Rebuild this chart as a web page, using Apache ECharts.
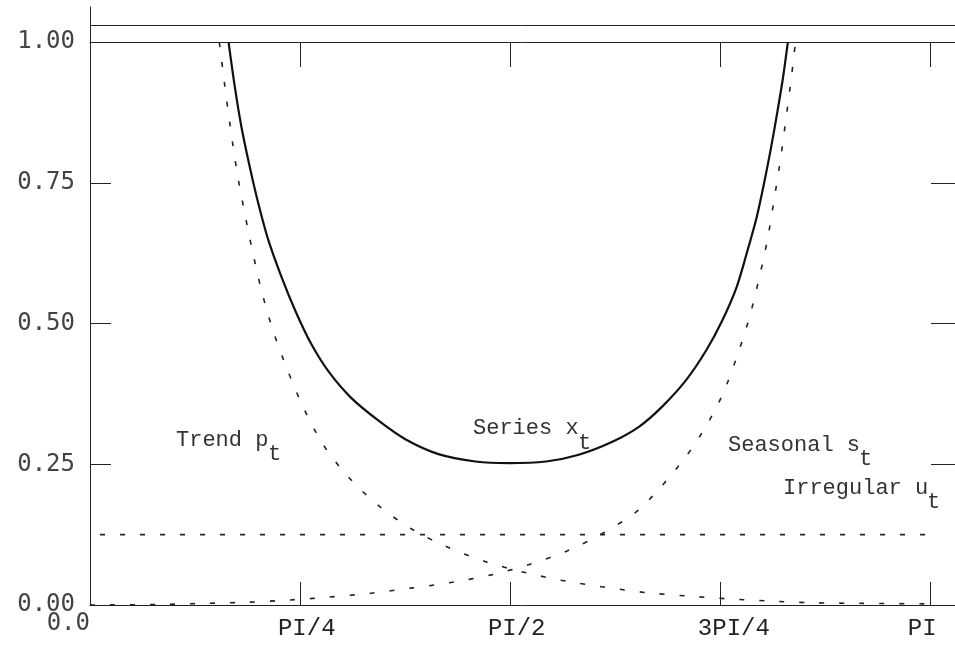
<!DOCTYPE html>
<html><head><meta charset="utf-8">
<script src="https://cdn.jsdelivr.net/npm/echarts@6/dist/echarts.min.js"></script>
<style>html,body{margin:0;padding:0;background:#fff}#c{width:955px;height:645px}</style>
</head><body><div id="c"></div><script>
// frequency expressed as a fraction of PI
const xTickValues = [0.25, 0.5, 0.75, 1.0];
const xTickLabels = ['PI/4', 'PI/2', '3PI/4', 'PI'];
const yTickValues = [0, 0.25, 0.5, 0.75, 1.0];

const trendFreq = [0.154,0.160,0.167,0.175,0.184,0.193,0.204,0.217,0.235,0.255,0.278,0.308,0.344,0.383,0.427,0.473,0.520,0.568,0.616,0.662,0.711,0.759,0.809,0.860,0.916,1.000];
const trendVal  = [1.000,0.928,0.850,0.770,0.698,0.632,0.560,0.492,0.418,0.348,0.284,0.227,0.176,0.135,0.102,0.076,0.057,0.042,0.031,0.022,0.016,0.011,0.007,0.004,0.003,0.002];

const seasonalFreq = [0.000,0.085,0.137,0.189,0.239,0.284,0.335,0.382,0.430,0.479,0.523,0.568,0.610,0.654,0.702,0.730,0.753,0.770,0.785,0.797,0.807,0.815,0.823,0.830,0.835,0.840];
const seasonalVal  = [0.000,0.001,0.003,0.005,0.009,0.014,0.021,0.030,0.040,0.054,0.072,0.096,0.127,0.170,0.249,0.309,0.373,0.440,0.510,0.582,0.652,0.724,0.800,0.878,0.935,1.000];

const seriesFreq = [0.165,0.172,0.180,0.190,0.200,0.212,0.228,0.245,0.263,0.284,0.311,0.344,0.376,0.415,0.459,0.499,0.543,0.582,0.622,0.654,0.681,0.710,0.734,0.753,0.770,0.782,0.794,0.803,0.811,0.818,0.825,0.831];
const seriesVal  = [1.000,0.925,0.852,0.780,0.716,0.650,0.583,0.521,0.465,0.415,0.368,0.327,0.294,0.268,0.255,0.252,0.255,0.267,0.290,0.317,0.352,0.400,0.453,0.506,0.565,0.625,0.690,0.752,0.813,0.872,0.935,1.000];

const irregularFreq = [0.012, 0.997];
const irregularVal  = [0.125, 0.125];

const frameTop = 1.03;

const zip = (a, b) => a.map((v, i) => [v, b[i]]);
const ink = '#222';
const labelShift = 0.0262;
const xLabelPos = xTickValues.map(v => v - labelShift);

const chart = echarts.init(document.getElementById('c'), null, {renderer: 'canvas'});
const monoFont = '"Liberation Mono", "Courier New", monospace';
const sansFont = '"DejaVu Sans Mono", monospace';

chart.setOption({
  backgroundColor: '#fff',
  animation: false,
  grid: {left: 90, right: 0, top: 7, bottom: 40, containLabel: false},
  xAxis: [{
    type: 'value', min: 0, max: 1.03, position: 'bottom',
    axisLine: {show: true, onZero: false, lineStyle: {color: ink, width: 1}},
    axisTick: {show: true, inside: true, length: 23, customValues: xTickValues, lineStyle: {color: ink, width: 1}},
    axisLabel: {
      show: true, customValues: xLabelPos, align: 'left', margin: 12,
      fontFamily: monoFont, fontSize: 24, color: ink,
      formatter: v => { const i = xLabelPos.findIndex(p => Math.abs(p - v) < 1e-6); return i >= 0 ? xTickLabels[i] : ''; }
    },
    splitLine: {show: false}
  }, {
    type: 'value', min: 0, max: 1.03, position: 'top', offset: -35,
    axisLine: {show: true, onZero: false, lineStyle: {color: ink, width: 1}},
    axisTick: {show: true, inside: true, length: 25, customValues: xTickValues, lineStyle: {color: ink, width: 1}},
    axisLabel: {show: false},
    splitLine: {show: false}
  }],
  yAxis: [{
    type: 'value', min: 0, max: 1.0625, position: 'left',
    axisLine: {show: true, onZero: false, lineStyle: {color: ink, width: 1}},
    axisTick: {show: true, inside: true, length: 21, customValues: [0.25, 0.5, 0.75], lineStyle: {color: ink, width: 1}},
    axisLabel: {show: true, customValues: yTickValues, margin: 15, fontFamily: sansFont, fontSize: 24, color: '#444',
      formatter: v => v.toFixed(2)},
    splitLine: {show: false}
  }, {
    type: 'value', min: 0, max: 1.0625, position: 'right',
    axisLine: {show: true, onZero: false, lineStyle: {color: ink, width: 1}},
    axisTick: {show: true, inside: true, length: 24, customValues: [0.25, 0.5, 0.75], lineStyle: {color: ink, width: 1}},
    axisLabel: {show: false},
    splitLine: {show: false}
  }],
  series: [{
    name: 'Series x_t', type: 'line', data: zip(seriesFreq, seriesVal), showSymbol: false, smooth: 0.3,
    lineStyle: {color: '#111', width: 2.2},
    markLine: {silent: true, symbol: 'none', label: {show: false},
      lineStyle: {type: 'solid', color: ink, width: 1}, data: [{yAxis: frameTop}]}
  }, {
    name: 'Trend p_t', type: 'line', data: zip(trendFreq, trendVal), showSymbol: false, smooth: 0.3,
    lineStyle: {color: '#222', width: 1.6, type: [5, 15]}
  }, {
    name: 'Seasonal s_t', type: 'line', data: zip(seasonalFreq, seasonalVal), showSymbol: false, smooth: 0.3,
    lineStyle: {color: '#222', width: 1.6, type: [5, 15]}
  }, {
    name: 'Irregular u_t', type: 'line', data: zip(irregularFreq, irregularVal), showSymbol: false,
    lineStyle: {color: '#222', width: 1.6, type: [5, 15]}
  }],
  graphic: [
    {type: 'text', style: {text: '0.0', x: 90, y: 624, textAlign: 'right', textVerticalAlign: 'middle', font: '24px ' + sansFont, fill: '#444'}},
    {type: 'text', style: {text: 'Trend p', x: 176, y: 440, textVerticalAlign: 'middle', font: '22px ' + monoFont, fill: '#333'}},
    {type: 'text', style: {text: 't', x: 268, y: 454, textVerticalAlign: 'middle', font: '22px ' + monoFont, fill: '#333'}},
    {type: 'text', style: {text: 'Series x', x: 473, y: 428, textVerticalAlign: 'middle', font: '22px ' + monoFont, fill: '#333'}},
    {type: 'text', style: {text: 't', x: 578, y: 443, textVerticalAlign: 'middle', font: '22px ' + monoFont, fill: '#333'}},
    {type: 'text', style: {text: 'Seasonal s', x: 728, y: 445, textVerticalAlign: 'middle', font: '22px ' + monoFont, fill: '#333'}},
    {type: 'text', style: {text: 't', x: 859, y: 459, textVerticalAlign: 'middle', font: '22px ' + monoFont, fill: '#333'}},
    {type: 'text', style: {text: 'Irregular u', x: 783, y: 488, textVerticalAlign: 'middle', font: '22px ' + monoFont, fill: '#333'}},
    {type: 'text', style: {text: 't', x: 927, y: 502, textVerticalAlign: 'middle', font: '22px ' + monoFont, fill: '#333'}}
  ]
});
</script></body></html>
